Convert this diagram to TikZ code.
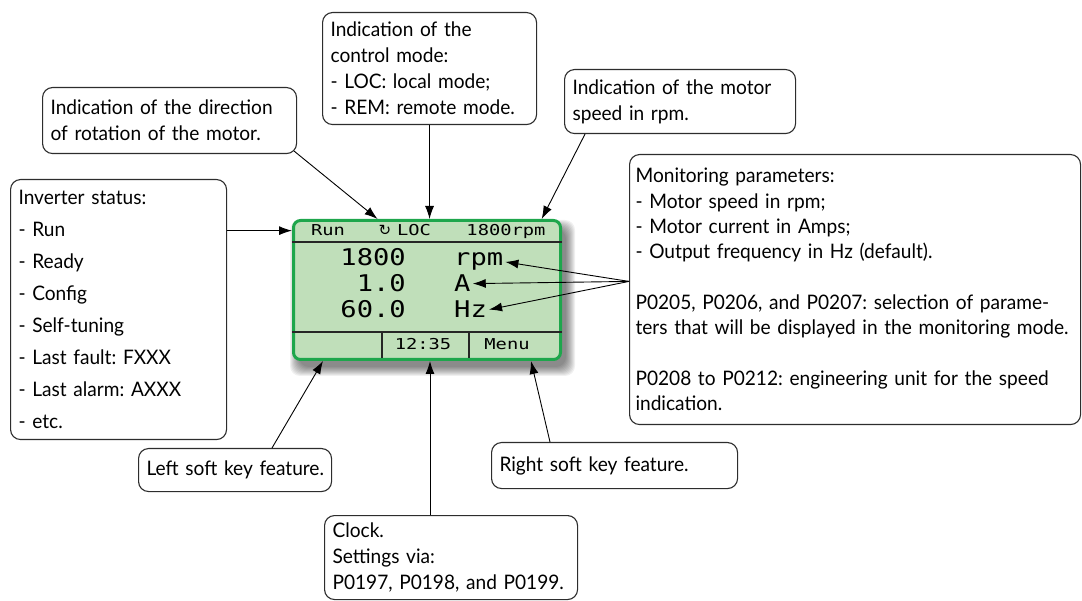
\documentclass[tikz,border=0pt]{standalone}
\usepackage{fontspec}
\setmainfont{Lato}[FakeStretch=0.955]
\newfontfamily\lcdsmall[FakeStretch=1.25]{DejaVu Sans Mono}
\newfontfamily\lcdlarge[FakeStretch=1.18]{DejaVu Sans Mono}
\newfontfamily\symbolfont{DejaVu Sans}
\usepackage{tikz}
\usetikzlibrary{arrows.meta,positioning,calc}
\definecolor{lcdgreen}{RGB}{192,223,186}
\definecolor{lcdedge}{RGB}{30,166,76}
\definecolor{boxline}{RGB}{45,45,45}
\frenchspacing

\begin{document}
\begin{tikzpicture}[x=1pt,y=-1pt,
    callout/.style={draw=boxline, line width=1.1pt, rounded corners=10pt, fill=white,
        anchor=north west, align=left, inner xsep=8pt, inner ysep=2pt,
        font=\fontsize{20}{26}\selectfont},
    lcd/.style={draw=lcdedge, line width=3pt, fill=lcdgreen, rounded corners=7pt, inner sep=0pt},
    lcdrule/.style={black!85, line width=1.3pt},
    lcdtxt/.style={inner sep=2pt, font=\lcdsmall\fontsize{15}{15}\selectfont},
    lcdbig/.style={inner sep=2pt, font=\lcdlarge\fontsize{23}{23}\selectfont},
    pointer/.style={-{Latex[length=13pt,width=9pt]}, line width=0.9pt}]
    \useasboundingbox (0,0) rectangle (1082,601);

    % shadow of the display
    \foreach \k in {0,...,9}
        \fill[black, opacity=0.06, rounded corners=10pt] (299-\k,229-\k) rectangle (566+\k,367+\k);

    % display
    \node[lcd, anchor=north west, minimum width=267pt, minimum height=139pt] (lcd) at (292,219) {};
    \draw[lcdrule] ($(lcd.north west)+(0,23)$) -- ($(lcd.north east)+(0,23)$);
    \draw[lcdrule] ($(lcd.north west)+(0,113)$) -- ($(lcd.north east)+(0,113)$);
    \draw[lcdrule] (382,332) -- (382,358);
    \draw[lcdrule] (469,332) -- (469,358);

    \node[lcdtxt, anchor=base] (run) at (328,236) {Run};
    \node[inner sep=1pt, anchor=base, font=\symbolfont\fontsize{15}{15}\selectfont] (rot) at (385,236) {↻};
    \node[lcdtxt, anchor=base] (loc) at (414,236) {LOC};
    \node[lcdtxt, anchor=base] (topspeed) at (506,236) {1800rpm};
    \node[lcdbig, anchor=base east] (val1) at (408,266) {1800};
    \node[lcdbig, anchor=base west] (unit1) at (452,266) {rpm};
    \node[lcdbig, anchor=base east] (val2) at (408,292) {1.0};
    \node[lcdbig, anchor=base west] (unit2) at (452,292) {A};
    \node[lcdbig, anchor=base east] (val3) at (408,318) {60.0};
    \node[lcdbig, anchor=base west] (unit3) at (452,318) {Hz};
    \node[lcdtxt, anchor=base] (clock) at (423,350) {12:35};
    \node[lcdtxt, anchor=base] (menu) at (507,350) {Menu};

    % callouts
    \node[callout, text width=238pt, minimum height=66pt] (dirbox) at (42,87)
        {Indication of the direction\\of rotation of the motor.};
    \node[callout, text width=198pt, minimum height=112pt] (ctrlbox) at (322,12)
        {Indication of the\\control mode:\\- LOC: local mode;\\- REM: remote mode.};
    \node[callout, text width=215pt, minimum height=64pt] (speedbox) at (564,69)
        {Indication of the motor\\speed in rpm.};
    \node[callout, text width=439pt, inner xsep=6pt, minimum height=270pt, font=\fontsize{20}{25.3}\selectfont] (monbox) at (629,154)
        {Monitoring parameters:\\- Motor speed in rpm;\\- Motor current in Amps;\\- Output frequency in Hz (default).\\[25.3pt]
         \mbox{P0205, P0206, and P0207: selection of parame-}\\\mbox{ters that will be displayed in the monitoring mode.}\\[25.3pt]
         P0208 to P0212: engineering unit for the speed\\indication.};
    \node[callout, text width=200pt, minimum height=260pt, font=\fontsize{20}{32}\selectfont] (invbox) at (10,179)
        {Inverter status:\\- Run\\- Ready\\- Config\\- Self-tuning\\- Last fault: FXXX\\- Last alarm: AXXX\\- etc.};
    \node[callout, text width=177pt, minimum height=43pt] (leftbox) at (138,448)
        {\mbox{Left soft key feature.}};
    \node[callout, text width=230pt, minimum height=46pt] (rightbox) at (491,442)
        {Right soft key feature.};
    \node[callout, text width=237pt, minimum height=84pt] (clockbox) at (324,515)
        {Clock.\\Settings via:\\\mbox{P0197, P0198, and P0199.}};

    % pointers
    \coordinate (monin) at ($(monbox.north west)!0.47!(monbox.south west)$);
    \draw[pointer] (invbox.east |- run) -- (lcd.west |- run);
    \draw[pointer] ($(dirbox.south east)+(-3,-3)$) -- (rot.north west |- lcd.north);
    \draw[pointer] (ctrlbox.south) -- (ctrlbox.south |- lcd.north);
    \draw[pointer] ($(speedbox.south west)+(21,0)$) -- ($(topspeed.east |- lcd.north)+(-6,0)$);
    \draw[pointer] (monin) -- (unit1.east);
    \draw[pointer] (monin) -- (unit2.east);
    \draw[pointer] (monin) -- (unit3.east);
    \draw[pointer] ($(leftbox.north west)+(134,0)$) -- ($(lcd.south west)+(31,0)$);
    \draw[pointer] ($(clockbox.north west)+(106,0)$) -- ($(clock |- lcd.south)+(7,0)$);
    \draw[pointer] ($(rightbox.north west)+(59,0)$) -- ($(menu |- lcd.south)+(24,0)$);
\end{tikzpicture}
\end{document}
